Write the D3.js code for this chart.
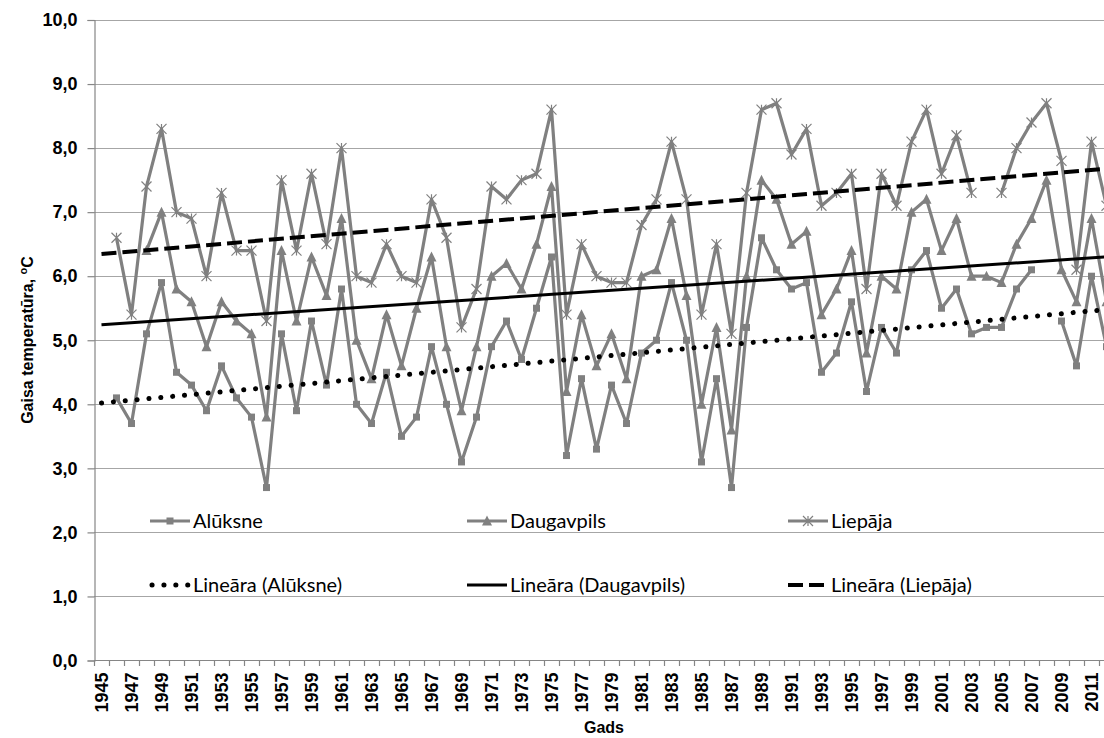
<!DOCTYPE html>
<html>
<head>
<meta charset="utf-8">
<script src="https://cdn.jsdelivr.net/npm/d3@7/dist/d3.min.js"></script>
<style>
  body { margin: 0; background: #fff; }
  .tick text { font-family: "Liberation Sans", Arial, sans-serif; font-weight: bold; font-size: 18px; fill: #000; }
  .legend text { font-family: Lato, "Noto Sans", sans-serif; font-size: 20px; fill: #000; }
</style>
</head>
<body>
<svg id="chart" width="1104" height="738"></svg>
<script>
// years on the category axis
const years = d3.range(1945, 2013);

// mean annual air temperature, °C (null = no data)
const aluksne = [null, 4.1, 3.7, 5.1, 5.9, 4.5, 4.3, 3.9, 4.6, 4.1,
  3.8, 2.7, 5.1, 3.9, 5.3, 4.3, 5.8, 4.0, 3.7, 4.5,
  3.5, 3.8, 4.9, 4.0, 3.1, 3.8, 4.9, 5.3, 4.7, 5.5,
  6.3, 3.2, 4.4, 3.3, 4.3, 3.7, 4.8, 5.0, 5.9, 5.0,
  3.1, 4.4, 2.7, 5.2, 6.6, 6.1, 5.8, 5.9, 4.5, 4.8,
  5.6, 4.2, 5.2, 4.8, 6.1, 6.4, 5.5, 5.8, 5.1, 5.2,
  5.2, 5.8, 6.1, null, 5.3, 4.6, 6.0, 4.9];

const daugavpils = [null, null, null, 6.4, 7.0, 5.8, 5.6, 4.9, 5.6, 5.3,
  5.1, 3.8, 6.4, 5.3, 6.3, 5.7, 6.9, 5.0, 4.4, 5.4,
  4.6, 5.5, 6.3, 4.9, 3.9, 4.9, 6.0, 6.2, 5.8, 6.5,
  7.4, 4.2, 5.4, 4.6, 5.1, 4.4, 6.0, 6.1, 6.9, 5.7,
  4.0, 5.2, 3.6, 6.0, 7.5, 7.2, 6.5, 6.7, 5.4, 5.8,
  6.4, 4.8, 6.0, 5.8, 7.0, 7.2, 6.4, 6.9, 6.0, 6.0,
  5.9, 6.5, 6.9, 7.5, 6.1, 5.6, 6.9, 5.6];

const liepaja = [null, 6.6, 5.4, 7.4, 8.3, 7.0, 6.9, 6.0, 7.3, 6.4,
  6.4, 5.3, 7.5, 6.4, 7.6, 6.5, 8.0, 6.0, 5.9, 6.5,
  6.0, 5.9, 7.2, 6.6, 5.2, 5.8, 7.4, 7.2, 7.5, 7.6,
  8.6, 5.4, 6.5, 6.0, 5.9, 5.9, 6.8, 7.2, 8.1, 7.2,
  5.4, 6.5, 5.1, 7.3, 8.6, 8.7, 7.9, 8.3, 7.1, 7.3,
  7.6, 5.8, 7.6, 7.1, 8.1, 8.6, 7.6, 8.2, 7.3, null,
  7.3, 8.0, 8.4, 8.7, 7.8, 6.1, 8.1, 7.1];

const yTicks = d3.range(0, 11);
const seriesNames = ["Alūksne", "Daugavpils", "Liepāja"];

const svg = d3.select("#chart");
const gray = "#808080";

const x = d3.scaleBand().domain(years).range([94, 1114]);
const y = d3.scaleLinear().domain([0, 10]).range([660.5, 20]);
const cx = d => x(d) + x.bandwidth() / 2;
const fmt = d => d3.format(".1f")(d).replace(".", ",");

// gridlines
svg.append("g")
    .selectAll("line")
    .data(yTicks.filter(d => d > 0))
    .join("line")
    .attr("x1", 94).attr("x2", 1114)
    .attr("y1", d => Math.round(y(d)) + 0.5).attr("y2", d => Math.round(y(d)) + 0.5)
    .attr("stroke", "#a6a6a6").attr("stroke-width", 1.2);

// y axis
const yAxis = svg.append("g")
    .attr("transform", "translate(94.5,0)")
    .call(d3.axisLeft(y).tickValues(yTicks).tickFormat(fmt).tickSize(7).tickPadding(10));
yAxis.select(".domain").attr("stroke", "#868686").attr("stroke-width", 1.2);
yAxis.selectAll(".tick line").attr("stroke", "#868686").attr("stroke-width", 1.2);

// x axis line and tick marks between categories
svg.append("line")
    .attr("x1", 94).attr("x2", 1114).attr("y1", 660.5).attr("y2", 660.5)
    .attr("stroke", "#868686").attr("stroke-width", 1.2);
svg.append("g")
    .selectAll("line")
    .data(years)
    .join("line")
    .attr("x1", d => Math.round(x(d)) + 0.5).attr("x2", d => Math.round(x(d)) + 0.5)
    .attr("y1", 660.5).attr("y2", 666)
    .attr("stroke", "#868686").attr("stroke-width", 1.2);

const xAxis = svg.append("g")
    .attr("transform", "translate(0,660.5)")
    .call(d3.axisBottom(x).tickValues(years.filter(d => (d - 1945) % 2 === 0)).tickSize(0));
xAxis.select(".domain").remove();
xAxis.selectAll(".tick text")
    .attr("transform", "rotate(-90)")
    .attr("text-anchor", "end")
    .attr("x", -12).attr("y", 0).attr("dy", "0.36em");

// axis titles
svg.append("text")
    .attr("x", 604).attr("y", 733)
    .attr("text-anchor", "middle")
    .style("font-family", "'Liberation Sans', Arial, sans-serif")
    .style("font-weight", "bold").style("font-size", "16px")
    .text("Gads");

const yt = svg.append("text")
    .attr("transform", "translate(33,340) rotate(-90)")
    .attr("text-anchor", "middle")
    .style("font-family", "'Liberation Sans', Arial, sans-serif")
    .style("font-weight", "bold").style("font-size", "16px");
yt.append("tspan").text("Gaisa temperatūra, ");
yt.append("tspan").attr("dy", -6).style("font-size", "11px").text("o");
yt.append("tspan").attr("dy", 6).text("C");

// series
const line = d3.line()
    .defined((d, i) => d != null)
    .x((d, i) => cx(years[i]))
    .y(d => y(d));

const allSeries = [aluksne, daugavpils, liepaja];

allSeries.forEach(vals => {
    svg.append("path")
        .datum(vals)
        .attr("d", line)
        .attr("fill", "none")
        .attr("stroke", gray)
        .attr("stroke-width", 3.2)
        .attr("stroke-linejoin", "round");
});

const pts = vals => vals.map((v, i) => ({ v, yr: years[i] })).filter(d => d.v != null);

function drawSquare(g, px, py, s) {
    g.append("rect").attr("x", px - s / 2).attr("y", py - s / 2)
        .attr("width", s).attr("height", s).attr("fill", gray);
}
function drawTriangle(g, px, py, s) {
    const h = s * 0.9;
    g.append("path")
        .attr("d", `M${px},${py - h / 2 - 1}L${px + s / 2},${py + h / 2}L${px - s / 2},${py + h / 2}Z`)
        .attr("fill", gray);
}
function drawStar(g, px, py, s) {
    const r = s / 2;
    g.append("path")
        .attr("d", `M${px - r},${py - r}L${px + r},${py + r}M${px - r},${py + r}L${px + r},${py - r}M${px},${py - r}L${px},${py + r}`)
        .attr("stroke", gray).attr("stroke-width", 1.2).attr("fill", "none");
}
const markers = [
    (g, px, py) => drawSquare(g, px, py, 7),
    (g, px, py) => drawTriangle(g, px, py, 10),
    (g, px, py) => drawStar(g, px, py, 10)
];

allSeries.forEach((vals, k) => {
    const g = svg.append("g");
    pts(vals).forEach(d => markers[k](g, cx(d.yr), y(d.v)));
});

// linear trend lines (least squares on category index, as in Excel)
function trend(vals) {
    const p = vals.map((v, i) => [i + 1, v]).filter(d => d[1] != null);
    const mx = d3.mean(p, d => d[0]), my = d3.mean(p, d => d[1]);
    const b = d3.sum(p, d => (d[0] - mx) * (d[1] - my)) / d3.sum(p, d => (d[0] - mx) ** 2);
    const a = my - b * mx;
    return [[years[0], a + b], [years[years.length - 1], a + b * years.length]];
}

const trendStyles = [
    { width: 5, dash: "0.1 11.8", cap: "round" },
    { width: 3, dash: null, cap: "butt" },
    { width: 4, dash: "15 6", cap: "butt" }
];

const tline = d3.line().x(d => cx(d[0])).y(d => y(d[1]));
allSeries.forEach((vals, k) => {
    const st = trendStyles[k];
    svg.append("path")
        .datum(trend(vals))
        .attr("d", tline)
        .attr("fill", "none")
        .attr("stroke", "#000")
        .attr("stroke-width", st.width)
        .attr("stroke-linecap", st.cap)
        .attr("stroke-dasharray", st.dash);
});

// legend
const legend = svg.append("g").attr("class", "legend");
const colX = [150, 467, 788];
seriesNames.forEach((name, k) => {
    const g = legend.append("g").attr("transform", `translate(${colX[k]},521)`);
    g.append("line").attr("x1", 0).attr("x2", 40).attr("stroke", gray).attr("stroke-width", 3.2);
    markers[k](g, 20, 0);
    g.append("text").attr("x", 43).attr("dy", "0.35em").text(name);

    const st = trendStyles[k];
    const g2 = legend.append("g").attr("transform", `translate(${colX[k]},585)`);
    g2.append("line").attr("x1", st.cap === "round" ? 2 : 0).attr("x2", 40)
        .attr("stroke", "#000").attr("stroke-width", st.width)
        .attr("stroke-linecap", st.cap).attr("stroke-dasharray", st.dash);
    g2.append("text").attr("x", 43).attr("dy", "0.35em").text(`Lineāra (${name})`);
});
</script>
</body>
</html>
